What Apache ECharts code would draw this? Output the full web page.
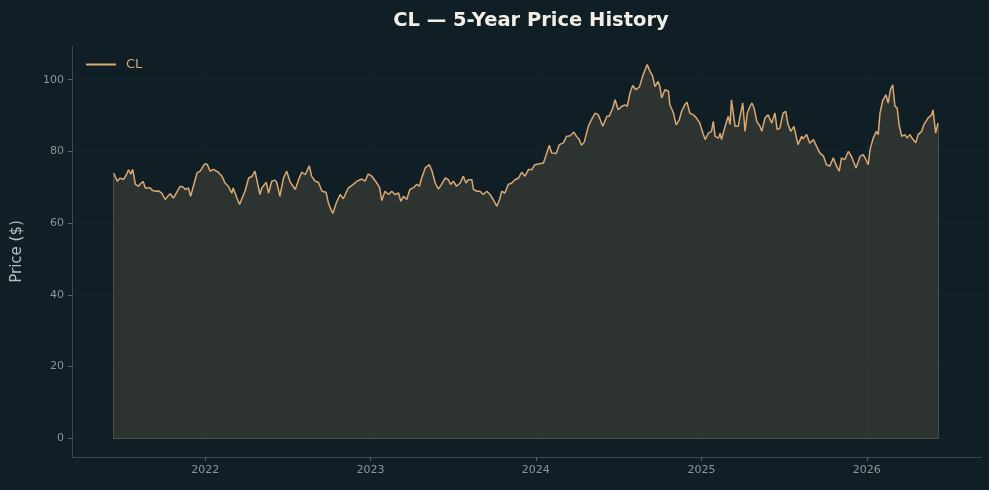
<!DOCTYPE html>
<html>
<head>
<meta charset="utf-8">
<script src="https://cdn.jsdelivr.net/npm/echarts@6/dist/echarts.min.js"></script>
<style>
html,body{margin:0;padding:0;background:#0f1f25;}
#chart{width:989px;height:490px;}
</style>
</head>
<body>
<div id="chart"></div>
<script>
const seriesName = 'CL';
const titleText = 'CL — 5-Year Price History';
const yTicks = [0, 20, 40, 60, 80, 100];
const xTicks = ['2022-01-01', '2023-01-01', '2024-01-01', '2025-01-01', '2026-01-01'];
const dates = [
'2021-06-13','2021-06-21','2021-06-27','2021-07-05','2021-07-11','2021-07-16','2021-07-21','2021-07-25','2021-07-31','2021-08-07',
'2021-08-11','2021-08-17','2021-08-22','2021-08-25','2021-09-02','2021-09-06','2021-09-13','2021-09-20','2021-09-27','2021-10-01',
'2021-10-05','2021-10-11','2021-10-16','2021-10-23','2021-10-31','2021-11-07','2021-11-14','2021-11-18','2021-11-25','2021-11-30',
'2021-12-06','2021-12-14','2021-12-21','2021-12-28','2022-01-01','2022-01-06','2022-01-12','2022-01-19','2022-01-23','2022-01-30',
'2022-02-07','2022-02-14','2022-02-21','2022-03-01','2022-03-04','2022-03-12','2022-03-18','2022-03-23','2022-03-30','2022-04-07',
'2022-04-14','2022-04-21','2022-04-25','2022-05-02','2022-05-06','2022-05-16','2022-05-21','2022-05-28','2022-06-04','2022-06-08',
'2022-06-15','2022-06-23','2022-06-30','2022-07-08','2022-07-12','2022-07-19','2022-07-26','2022-08-02','2022-08-10','2022-08-19',
'2022-08-24','2022-09-01','2022-09-08','2022-09-16','2022-09-25','2022-09-30','2022-10-04','2022-10-10','2022-10-15','2022-10-19',
'2022-10-26','2022-11-02','2022-11-13','2022-11-24','2022-12-02','2022-12-13','2022-12-20','2022-12-27','2023-01-04','2023-01-07',
'2023-01-15','2023-01-21','2023-01-26','2023-02-02','2023-02-10','2023-02-17','2023-02-24','2023-03-04','2023-03-09','2023-03-15',
'2023-03-22','2023-03-29','2023-04-06','2023-04-13','2023-04-19','2023-04-24','2023-05-02','2023-05-11','2023-05-16','2023-05-24',
'2023-05-31','2023-06-07','2023-06-15','2023-06-22','2023-06-27','2023-07-03','2023-07-10','2023-07-18','2023-07-25','2023-07-31',
'2023-08-05','2023-08-13','2023-08-16','2023-08-24','2023-08-31','2023-09-07','2023-09-15','2023-09-22','2023-09-29','2023-10-07',
'2023-10-13','2023-10-18','2023-10-25','2023-11-01','2023-11-09','2023-11-16','2023-11-24','2023-12-01','2023-12-08','2023-12-16',
'2023-12-23','2023-12-30','2024-01-07','2024-01-18','2024-01-24','2024-01-31','2024-02-05','2024-02-15','2024-02-22','2024-03-02',
'2024-03-09','2024-03-17','2024-03-25','2024-03-31','2024-04-06','2024-04-11','2024-04-17','2024-04-26','2024-05-03','2024-05-11',
'2024-05-18','2024-05-22','2024-05-28','2024-06-06','2024-06-11','2024-06-19','2024-06-24','2024-07-01','2024-07-09','2024-07-16',
'2024-07-21','2024-07-27','2024-08-02','2024-08-09','2024-08-17','2024-08-25','2024-09-03','2024-09-09','2024-09-15','2024-09-20',
'2024-09-27','2024-10-01','2024-10-05','2024-10-12','2024-10-20','2024-10-23','2024-10-31','2024-11-06','2024-11-13','2024-11-18',
'2024-11-25','2024-11-30','2024-12-06','2024-12-14','2024-12-21','2024-12-28','2025-01-05','2025-01-09','2025-01-16','2025-01-23',
'2025-01-27','2025-01-31','2025-02-07','2025-02-11','2025-02-14','2025-02-22','2025-03-01','2025-03-05','2025-03-08','2025-03-12',
'2025-03-16','2025-03-23','2025-03-27','2025-04-02','2025-04-07','2025-04-12','2025-04-18','2025-04-22','2025-04-27','2025-05-03',
'2025-05-10','2025-05-14','2025-05-21','2025-05-28','2025-06-05','2025-06-12','2025-06-17','2025-06-23','2025-06-30','2025-07-06',
'2025-07-11','2025-07-17','2025-07-24','2025-08-02','2025-08-10','2025-08-13','2025-08-21','2025-08-28','2025-09-05','2025-09-12',
'2025-09-19','2025-09-27','2025-10-04','2025-10-11','2025-10-19','2025-10-26','2025-11-01','2025-11-06','2025-11-13','2025-11-21',
'2025-11-28','2025-12-08','2025-12-17','2025-12-24','2025-12-30','2026-01-04','2026-01-08','2026-01-15','2026-01-22','2026-01-26',
'2026-01-30','2026-02-05','2026-02-12','2026-02-17','2026-02-22','2026-02-27','2026-03-04','2026-03-09','2026-03-13','2026-03-19',
'2026-03-26','2026-03-31','2026-04-06','2026-04-13','2026-04-19','2026-04-24','2026-05-02','2026-05-07','2026-05-16','2026-05-24',
'2026-05-27','2026-06-02','2026-06-07'
];
const prices = [
74.0,71.7,72.5,72.2,73.5,74.9,73.7,75.0,70.8,70.3,
71.0,71.6,69.8,69.4,69.8,69.2,68.9,69.0,68.4,67.9,
66.6,67.6,68.2,67.0,68.8,70.3,70.0,69.4,69.8,67.5,
70.3,74.0,74.5,76.0,76.6,76.3,74.5,75.0,75.4,74.2,
73.1,71.2,70.3,68.4,69.8,67.0,65.2,66.8,68.9,72.6,
73.0,74.5,74.0,68.0,69.8,71.4,68.4,71.7,72.0,71.4,
67.5,72.6,74.5,71.4,71.0,69.4,72.0,74.2,73.5,76.0,
73.1,71.7,71.4,68.9,68.6,65.7,64.3,62.7,64.7,66.1,
68.0,66.8,69.8,70.8,71.7,72.3,71.7,73.7,73.1,73.5,
71.2,70.0,66.3,68.9,68.0,68.9,68.0,68.4,66.1,67.5,
66.6,69.4,69.9,70.8,70.3,72.6,75.4,76.3,74.9,71.2,
69.5,70.8,72.6,72.1,70.8,71.7,70.3,71.2,73.1,71.2,
72.1,72.1,69.5,68.9,68.9,68.0,68.9,68.0,66.6,64.7,
66.6,68.9,68.4,70.8,71.2,72.1,72.6,74.2,73.1,75.0,
74.9,76.3,76.5,76.8,79.1,81.7,79.6,79.4,81.9,82.4,
84.2,84.4,85.4,84.2,83.3,81.7,82.6,87.0,88.9,90.7,
90.2,89.8,87.0,89.8,89.8,92.1,94.4,91.6,92.6,93.0,
92.6,96.3,98.4,97.2,98.0,101.4,104.2,102.4,101.0,98.1,
99.5,98.1,94.9,97.2,96.8,93.0,90.7,87.4,88.9,91.2,
93.0,93.7,90.7,90.2,89.3,87.9,84.7,83.3,85.1,85.6,
88.4,84.2,83.7,85.1,83.3,87.0,89.8,87.5,94.4,90.7,
87.0,87.0,89.8,93.5,85.6,90.7,92.6,93.5,92.1,88.4,
87.0,85.6,89.3,90.2,87.9,90.7,86.1,86.5,90.7,91.2,
87.5,85.6,87.0,81.9,84.2,83.5,84.7,82.3,83.3,81.4,
79.6,78.7,76.3,75.9,78.2,75.9,74.5,78.2,77.7,80.0,
78.6,75.4,78.6,79.1,77.7,76.3,80.5,83.7,85.6,84.7,
90.7,94.2,95.8,93.5,97.2,98.6,92.6,92.1,87.5,84.2,
84.7,83.7,84.7,83.3,82.4,84.7,85.6,87.5,89.3,90.2,
91.6,85.1,87.9
];

const lineColor = '#dba873';
const font = 'DejaVu Sans';
const ts = d => Date.parse(d + 'T00:00:00Z');
const data = dates.map((d, i) => [ts(d), prices[i]]);
const first = data[0], last = data[data.length - 1];
const edgeColor = 'rgba(130,125,110,0.5)';
const xTickVals = xTicks.map(ts);

const chart = echarts.init(document.getElementById('chart'), null, {renderer: 'canvas'});
chart.setOption({
  backgroundColor: '#0f1f25',
  animation: false,
  title: {
    text: titleText,
    left: 526, top: 6, textAlign: 'center',
    textStyle: {color: '#f2eee6', fontFamily: font, fontSize: 19.5, fontWeight: 'bold'}
  },
  legend: {
    left: 81, top: 53,
    icon: 'rect', itemWidth: 30, itemHeight: 2, itemGap: 10,
    textStyle: {color: '#cfa77a', fontFamily: font, fontSize: 13, padding: [0, 0, 0, 5]},
    data: [seriesName]
  },
  grid: {left: 72, right: 8, top: 46, bottom: 33, containLabel: false},
  xAxis: {
    type: 'value',
    min: ts('2021-03-13'), max: ts('2026-09-10'),
    axisLine: {show: true, onZero: false, lineStyle: {color: '#3e4649', width: 1}},
    axisTick: {show: true, length: 4, lineStyle: {color: '#5a6265'}, customValues: xTickVals},
    axisLabel: {
      color: '#8e9598', fontFamily: font, fontSize: 11, margin: 8,
      customValues: xTickVals,
      formatter: v => String(new Date(v).getUTCFullYear())
    },
    splitLine: {show: true, lineStyle: {color: 'rgba(255,255,255,0.025)', width: 1}}
  },
  yAxis: {
    type: 'value',
    min: -5.2, max: 109.4,
    name: 'Price ($)', nameLocation: 'middle', nameGap: 47, nameRotate: 90,
    nameTextStyle: {color: '#b9bebf', fontFamily: font, fontSize: 15},
    axisLine: {show: true, onZero: false, lineStyle: {color: '#3e4649', width: 1}},
    axisTick: {show: true, length: 4, lineStyle: {color: '#5a6265'}, customValues: yTicks},
    axisLabel: {color: '#8e9598', fontFamily: font, fontSize: 11, margin: 8, customValues: yTicks},
    splitLine: {show: true, lineStyle: {color: 'rgba(255,255,255,0.025)', width: 1}}
  },
  series: [{
    name: seriesName,
    type: 'line',
    data: data,
    showSymbol: false,
    symbol: 'none',
    lineStyle: {color: lineColor, width: 1.5},
    itemStyle: {color: lineColor},
    areaStyle: {color: 'rgba(212,165,116,0.15)', opacity: 1, origin: 0},
    markLine: {
      silent: true, symbol: 'none', label: {show: false},
      lineStyle: {color: edgeColor, width: 1, type: 'solid'},
      data: [
        [{coord: [first[0], 0]}, {coord: [last[0], 0]}],
        [{coord: [first[0], 0]}, {coord: [first[0], first[1]]}],
        [{coord: [last[0], 0]}, {coord: [last[0], last[1]]}]
      ]
    }
  }]
});
</script>
</body>
</html>
